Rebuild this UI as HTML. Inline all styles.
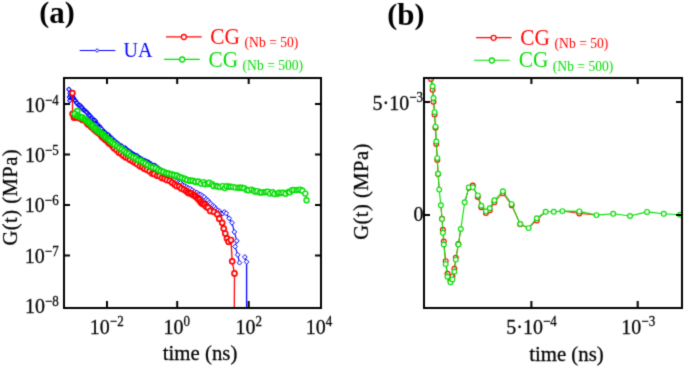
<!DOCTYPE html>
<html><head><meta charset="utf-8"><style>
html,body{margin:0;padding:0;background:#fff;width:685px;height:367px;overflow:hidden}
svg{display:block;will-change:transform}
</style></head><body>
<svg width="685" height="367" viewBox="0 0 685 367">
<defs><filter id="bl" x="0" y="0" width="685" height="367" filterUnits="userSpaceOnUse" color-interpolation-filters="sRGB"><feConvolveMatrix order="3" kernelMatrix="0.025 0.1 0.025 0.1 0.5 0.1 0.025 0.1 0.025" edgeMode="duplicate"/></filter><clipPath id="ca"><rect x="65" y="79" width="255" height="228"/></clipPath><clipPath id="cb"><rect x="425" y="79" width="256" height="228"/></clipPath></defs>
<g filter="url(#bl)"><rect width="685" height="367" fill="#fff"/>
<g clip-path="url(#ca)" fill="none" stroke-linejoin="round">
<polyline stroke="#00f" stroke-width="1.1" points="68.9,89.4 70.0,93.5 69.4,97.0 69.7,100.5 70.5,96.0 71.4,95.1 72.4,96.1 73.2,97.6 73.7,98.9 74.5,100.0 75.4,100.7 76.4,102.7 77.0,103.1 78.3,104.9 79.3,105.2 80.6,105.8 81.5,107.0 82.1,107.8 83.2,109.6 84.2,110.3 85.4,111.0 86.3,111.7 87.0,112.8 88.4,114.1 89.1,115.3 90.2,116.0 91.3,117.5 92.0,118.4 93.1,119.7 94.2,120.0 95.3,120.8 95.8,122.7 96.6,123.5 97.4,124.8 98.7,125.8 99.6,126.5 100.4,127.9 101.7,129.0 103.2,130.8 104.3,131.7 105.4,132.9 107.0,134.5 108.5,134.9 109.5,136.5 110.6,137.5 112.0,138.3 113.3,140.3 114.7,140.9 116.3,142.7 117.6,143.2 119.3,144.8 120.9,145.8 122.1,146.3 123.6,148.0 125.4,148.1 126.4,149.3 127.9,150.6 129.6,151.4 130.8,152.5 132.5,153.6 134.4,154.7 135.7,155.6 137.3,155.8 139.0,157.6 140.5,158.5 141.8,159.0 143.2,160.2 144.7,160.5 146.4,161.4 148.1,162.0 149.5,163.0 151.1,164.0 152.7,165.4 154.7,165.4 156.0,166.6 157.5,167.4 159.3,169.4 160.5,169.9 161.8,170.4 163.4,171.7 165.2,172.6 166.2,174.5 167.9,174.6 169.4,175.5 170.9,177.7 173.0,178.7 174.5,179.6 176.4,181.3 178.6,182.5 180.4,183.0 182.7,185.1 184.7,186.1 186.6,187.2 188.3,188.1 190.3,188.7 192.1,190.1 194.3,191.7 196.7,192.5 198.7,194.2 200.7,194.6 202.2,195.8 204.1,197.0 206.2,199.2 207.9,200.4 209.4,202.4 210.7,203.8 212.9,205.6 214.4,206.8 215.7,208.8 217.5,210.4 219.6,211.4 220.9,213.6 222.9,213.4 224.3,212.0 226.2,213.3 229.1,218.3 232.0,222.8 234.3,231.9 236.8,240.9 235.1,246.6 237.7,254.8 239.5,262.7"/>
<polyline stroke="#00f" stroke-width="1.3" points="244.8,257.0 246.6,261.8 246.6,312.0"/>
<g stroke="#00f" fill="#fff" stroke-width="1.05"><path d="M68.9 87.2l2.2 2.2l-2.2 2.2l-2.2-2.2z"/><path d="M70.0 91.3l2.2 2.2l-2.2 2.2l-2.2-2.2z"/><path d="M69.4 94.8l2.2 2.2l-2.2 2.2l-2.2-2.2z"/><path d="M69.7 98.3l2.2 2.2l-2.2 2.2l-2.2-2.2z"/><path d="M70.5 93.8l2.2 2.2l-2.2 2.2l-2.2-2.2z"/><path d="M71.4 92.9l2.2 2.2l-2.2 2.2l-2.2-2.2z"/><path d="M72.4 93.9l2.2 2.2l-2.2 2.2l-2.2-2.2z"/><path d="M73.2 95.4l2.2 2.2l-2.2 2.2l-2.2-2.2z"/><path d="M73.7 96.7l2.2 2.2l-2.2 2.2l-2.2-2.2z"/><path d="M74.5 97.8l2.2 2.2l-2.2 2.2l-2.2-2.2z"/><path d="M75.4 98.5l2.2 2.2l-2.2 2.2l-2.2-2.2z"/><path d="M76.4 100.5l2.2 2.2l-2.2 2.2l-2.2-2.2z"/><path d="M77.0 100.9l2.2 2.2l-2.2 2.2l-2.2-2.2z"/><path d="M78.3 102.7l2.2 2.2l-2.2 2.2l-2.2-2.2z"/><path d="M79.3 103.0l2.2 2.2l-2.2 2.2l-2.2-2.2z"/><path d="M80.6 103.6l2.2 2.2l-2.2 2.2l-2.2-2.2z"/><path d="M81.5 104.8l2.2 2.2l-2.2 2.2l-2.2-2.2z"/><path d="M82.1 105.6l2.2 2.2l-2.2 2.2l-2.2-2.2z"/><path d="M83.2 107.4l2.2 2.2l-2.2 2.2l-2.2-2.2z"/><path d="M84.2 108.1l2.2 2.2l-2.2 2.2l-2.2-2.2z"/><path d="M85.4 108.8l2.2 2.2l-2.2 2.2l-2.2-2.2z"/><path d="M86.3 109.5l2.2 2.2l-2.2 2.2l-2.2-2.2z"/><path d="M87.0 110.6l2.2 2.2l-2.2 2.2l-2.2-2.2z"/><path d="M88.4 111.9l2.2 2.2l-2.2 2.2l-2.2-2.2z"/><path d="M89.1 113.1l2.2 2.2l-2.2 2.2l-2.2-2.2z"/><path d="M90.2 113.8l2.2 2.2l-2.2 2.2l-2.2-2.2z"/><path d="M91.3 115.3l2.2 2.2l-2.2 2.2l-2.2-2.2z"/><path d="M92.0 116.2l2.2 2.2l-2.2 2.2l-2.2-2.2z"/><path d="M93.1 117.5l2.2 2.2l-2.2 2.2l-2.2-2.2z"/><path d="M94.2 117.8l2.2 2.2l-2.2 2.2l-2.2-2.2z"/><path d="M95.3 118.6l2.2 2.2l-2.2 2.2l-2.2-2.2z"/><path d="M95.8 120.5l2.2 2.2l-2.2 2.2l-2.2-2.2z"/><path d="M96.6 121.3l2.2 2.2l-2.2 2.2l-2.2-2.2z"/><path d="M97.4 122.6l2.2 2.2l-2.2 2.2l-2.2-2.2z"/><path d="M98.7 123.6l2.2 2.2l-2.2 2.2l-2.2-2.2z"/><path d="M99.6 124.3l2.2 2.2l-2.2 2.2l-2.2-2.2z"/><path d="M100.4 125.7l2.2 2.2l-2.2 2.2l-2.2-2.2z"/><path d="M101.7 126.8l2.2 2.2l-2.2 2.2l-2.2-2.2z"/><path d="M103.2 128.6l2.2 2.2l-2.2 2.2l-2.2-2.2z"/><path d="M104.3 129.5l2.2 2.2l-2.2 2.2l-2.2-2.2z"/><path d="M105.4 130.7l2.2 2.2l-2.2 2.2l-2.2-2.2z"/><path d="M107.0 132.3l2.2 2.2l-2.2 2.2l-2.2-2.2z"/><path d="M108.5 132.7l2.2 2.2l-2.2 2.2l-2.2-2.2z"/><path d="M109.5 134.3l2.2 2.2l-2.2 2.2l-2.2-2.2z"/><path d="M110.6 135.3l2.2 2.2l-2.2 2.2l-2.2-2.2z"/><path d="M112.0 136.1l2.2 2.2l-2.2 2.2l-2.2-2.2z"/><path d="M113.3 138.1l2.2 2.2l-2.2 2.2l-2.2-2.2z"/><path d="M114.7 138.7l2.2 2.2l-2.2 2.2l-2.2-2.2z"/><path d="M116.3 140.5l2.2 2.2l-2.2 2.2l-2.2-2.2z"/><path d="M117.6 141.0l2.2 2.2l-2.2 2.2l-2.2-2.2z"/><path d="M119.3 142.6l2.2 2.2l-2.2 2.2l-2.2-2.2z"/><path d="M120.9 143.6l2.2 2.2l-2.2 2.2l-2.2-2.2z"/><path d="M122.1 144.1l2.2 2.2l-2.2 2.2l-2.2-2.2z"/><path d="M123.6 145.8l2.2 2.2l-2.2 2.2l-2.2-2.2z"/><path d="M125.4 145.9l2.2 2.2l-2.2 2.2l-2.2-2.2z"/><path d="M126.4 147.1l2.2 2.2l-2.2 2.2l-2.2-2.2z"/><path d="M127.9 148.4l2.2 2.2l-2.2 2.2l-2.2-2.2z"/><path d="M129.6 149.2l2.2 2.2l-2.2 2.2l-2.2-2.2z"/><path d="M130.8 150.3l2.2 2.2l-2.2 2.2l-2.2-2.2z"/><path d="M132.5 151.4l2.2 2.2l-2.2 2.2l-2.2-2.2z"/><path d="M134.4 152.5l2.2 2.2l-2.2 2.2l-2.2-2.2z"/><path d="M135.7 153.4l2.2 2.2l-2.2 2.2l-2.2-2.2z"/><path d="M137.3 153.6l2.2 2.2l-2.2 2.2l-2.2-2.2z"/><path d="M139.0 155.4l2.2 2.2l-2.2 2.2l-2.2-2.2z"/><path d="M140.5 156.3l2.2 2.2l-2.2 2.2l-2.2-2.2z"/><path d="M141.8 156.8l2.2 2.2l-2.2 2.2l-2.2-2.2z"/><path d="M143.2 158.0l2.2 2.2l-2.2 2.2l-2.2-2.2z"/><path d="M144.7 158.3l2.2 2.2l-2.2 2.2l-2.2-2.2z"/><path d="M146.4 159.2l2.2 2.2l-2.2 2.2l-2.2-2.2z"/><path d="M148.1 159.8l2.2 2.2l-2.2 2.2l-2.2-2.2z"/><path d="M149.5 160.8l2.2 2.2l-2.2 2.2l-2.2-2.2z"/><path d="M151.1 161.8l2.2 2.2l-2.2 2.2l-2.2-2.2z"/><path d="M152.7 163.2l2.2 2.2l-2.2 2.2l-2.2-2.2z"/><path d="M154.7 163.2l2.2 2.2l-2.2 2.2l-2.2-2.2z"/><path d="M156.0 164.4l2.2 2.2l-2.2 2.2l-2.2-2.2z"/><path d="M157.5 165.2l2.2 2.2l-2.2 2.2l-2.2-2.2z"/><path d="M159.3 167.2l2.2 2.2l-2.2 2.2l-2.2-2.2z"/><path d="M160.5 167.7l2.2 2.2l-2.2 2.2l-2.2-2.2z"/><path d="M161.8 168.2l2.2 2.2l-2.2 2.2l-2.2-2.2z"/><path d="M163.4 169.5l2.2 2.2l-2.2 2.2l-2.2-2.2z"/><path d="M165.2 170.4l2.2 2.2l-2.2 2.2l-2.2-2.2z"/><path d="M166.2 172.3l2.2 2.2l-2.2 2.2l-2.2-2.2z"/><path d="M167.9 172.4l2.2 2.2l-2.2 2.2l-2.2-2.2z"/><path d="M169.4 173.3l2.2 2.2l-2.2 2.2l-2.2-2.2z"/></g>
<g stroke="#00f" fill="#fff" stroke-width="1.0"><path d="M170.9 175.3l2.4 2.4l-2.4 2.4l-2.4-2.4z"/><path d="M173.0 176.3l2.4 2.4l-2.4 2.4l-2.4-2.4z"/><path d="M174.5 177.2l2.4 2.4l-2.4 2.4l-2.4-2.4z"/><path d="M176.4 178.9l2.4 2.4l-2.4 2.4l-2.4-2.4z"/><path d="M178.6 180.1l2.4 2.4l-2.4 2.4l-2.4-2.4z"/><path d="M180.4 180.6l2.4 2.4l-2.4 2.4l-2.4-2.4z"/><path d="M182.7 182.7l2.4 2.4l-2.4 2.4l-2.4-2.4z"/><path d="M184.7 183.7l2.4 2.4l-2.4 2.4l-2.4-2.4z"/><path d="M186.6 184.8l2.4 2.4l-2.4 2.4l-2.4-2.4z"/><path d="M188.3 185.7l2.4 2.4l-2.4 2.4l-2.4-2.4z"/><path d="M190.3 186.3l2.4 2.4l-2.4 2.4l-2.4-2.4z"/><path d="M192.1 187.7l2.4 2.4l-2.4 2.4l-2.4-2.4z"/><path d="M194.3 189.3l2.4 2.4l-2.4 2.4l-2.4-2.4z"/><path d="M196.7 190.1l2.4 2.4l-2.4 2.4l-2.4-2.4z"/><path d="M198.7 191.8l2.4 2.4l-2.4 2.4l-2.4-2.4z"/><path d="M200.7 192.2l2.4 2.4l-2.4 2.4l-2.4-2.4z"/><path d="M202.2 193.4l2.4 2.4l-2.4 2.4l-2.4-2.4z"/><path d="M204.1 194.6l2.4 2.4l-2.4 2.4l-2.4-2.4z"/><path d="M206.2 196.8l2.4 2.4l-2.4 2.4l-2.4-2.4z"/><path d="M207.9 198.0l2.4 2.4l-2.4 2.4l-2.4-2.4z"/><path d="M209.4 200.0l2.4 2.4l-2.4 2.4l-2.4-2.4z"/><path d="M210.7 201.4l2.4 2.4l-2.4 2.4l-2.4-2.4z"/><path d="M212.9 203.2l2.4 2.4l-2.4 2.4l-2.4-2.4z"/><path d="M214.4 204.4l2.4 2.4l-2.4 2.4l-2.4-2.4z"/><path d="M215.7 206.4l2.4 2.4l-2.4 2.4l-2.4-2.4z"/><path d="M217.5 208.0l2.4 2.4l-2.4 2.4l-2.4-2.4z"/><path d="M219.6 209.0l2.4 2.4l-2.4 2.4l-2.4-2.4z"/><path d="M220.9 211.2l2.4 2.4l-2.4 2.4l-2.4-2.4z"/><path d="M222.9 211.0l2.4 2.4l-2.4 2.4l-2.4-2.4z"/><path d="M224.3 209.6l2.4 2.4l-2.4 2.4l-2.4-2.4z"/><path d="M226.2 210.9l2.4 2.4l-2.4 2.4l-2.4-2.4z"/><path d="M229.1 215.9l2.4 2.4l-2.4 2.4l-2.4-2.4z"/><path d="M232.0 220.4l2.4 2.4l-2.4 2.4l-2.4-2.4z"/><path d="M234.3 229.5l2.4 2.4l-2.4 2.4l-2.4-2.4z"/><path d="M236.8 238.5l2.4 2.4l-2.4 2.4l-2.4-2.4z"/><path d="M235.1 244.2l2.4 2.4l-2.4 2.4l-2.4-2.4z"/><path d="M237.7 252.4l2.4 2.4l-2.4 2.4l-2.4-2.4z"/><path d="M239.5 260.3l2.4 2.4l-2.4 2.4l-2.4-2.4z"/><path d="M244.8 254.6l2.4 2.4l-2.4 2.4l-2.4-2.4z"/><path d="M246.6 259.4l2.4 2.4l-2.4 2.4l-2.4-2.4z"/></g>
<polyline stroke="#f00" stroke-width="1.3" points="72.4,93.1 72.6,113.8 73.9,117.6 74.7,117.2 76.8,117.5 78.9,117.8 80.7,118.4 82.3,119.7 83.7,120.0 85.6,120.9 86.9,122.7 87.9,124.2 89.9,125.2 91.2,126.7 92.3,127.6 93.9,129.2 95.5,130.5 96.8,131.8 98.3,132.8 99.4,133.3 100.8,135.0 102.1,136.9 103.7,138.0 105.1,139.4 106.4,139.9 107.9,142.1 109.1,143.2 110.5,144.0 112.6,146.2 114.2,148.2 116.7,149.9 118.9,152.5 121.0,153.5 123.2,155.6 125.6,157.2 127.9,158.0 130.0,159.7 132.7,161.3 135.0,162.4 137.1,164.1 139.9,166.1 142.3,167.1 144.6,168.7 147.0,169.7 149.6,171.3 152.2,173.4 154.2,173.9 157.2,175.7 159.6,175.9 162.0,177.9 164.5,178.6 166.9,179.9 169.8,180.8 172.2,182.7 174.6,184.4 176.6,186.0 179.2,186.4 181.3,188.4 183.9,189.6 186.2,191.1 187.9,192.6 189.3,193.3 191.3,193.4 193.0,195.0 194.5,195.4 195.6,196.6 197.3,198.1 198.2,199.1 199.4,199.9 200.6,202.1 202.0,203.5 203.3,203.9 204.9,204.9 206.3,206.8 208.1,207.7 210.3,210.9 214.0,211.8 217.3,214.2 219.3,218.7 222.2,222.8 223.7,228.6 225.3,233.5 227.0,238.4 228.6,241.7 231.0,240.0 232.2,261.3 234.5,273.4 234.3,312.0"/>
<g stroke="#f00" fill="#fff" stroke-width="1.7"><circle cx="72.4" cy="93.1" r="2.5"/><circle cx="72.6" cy="113.8" r="2.5"/><circle cx="73.9" cy="117.6" r="2.5"/><circle cx="74.7" cy="117.2" r="2.5"/><circle cx="76.8" cy="117.5" r="2.5"/><circle cx="78.9" cy="117.8" r="2.5"/><circle cx="80.7" cy="118.4" r="2.5"/><circle cx="82.3" cy="119.7" r="2.5"/><circle cx="83.7" cy="120.0" r="2.5"/><circle cx="85.6" cy="120.9" r="2.5"/><circle cx="86.9" cy="122.7" r="2.5"/><circle cx="87.9" cy="124.2" r="2.5"/><circle cx="89.9" cy="125.2" r="2.5"/><circle cx="91.2" cy="126.7" r="2.5"/><circle cx="92.3" cy="127.6" r="2.5"/><circle cx="93.9" cy="129.2" r="2.5"/><circle cx="95.5" cy="130.5" r="2.5"/><circle cx="96.8" cy="131.8" r="2.5"/><circle cx="98.3" cy="132.8" r="2.5"/><circle cx="99.4" cy="133.3" r="2.5"/><circle cx="100.8" cy="135.0" r="2.5"/><circle cx="102.1" cy="136.9" r="2.5"/><circle cx="103.7" cy="138.0" r="2.5"/><circle cx="105.1" cy="139.4" r="2.5"/><circle cx="106.4" cy="139.9" r="2.5"/><circle cx="107.9" cy="142.1" r="2.5"/><circle cx="109.1" cy="143.2" r="2.5"/><circle cx="110.5" cy="144.0" r="2.5"/><circle cx="112.6" cy="146.2" r="2.5"/><circle cx="114.2" cy="148.2" r="2.5"/><circle cx="116.7" cy="149.9" r="2.5"/><circle cx="118.9" cy="152.5" r="2.5"/><circle cx="121.0" cy="153.5" r="2.5"/><circle cx="123.2" cy="155.6" r="2.5"/><circle cx="125.6" cy="157.2" r="2.5"/><circle cx="127.9" cy="158.0" r="2.5"/><circle cx="130.0" cy="159.7" r="2.5"/><circle cx="132.7" cy="161.3" r="2.5"/><circle cx="135.0" cy="162.4" r="2.5"/><circle cx="137.1" cy="164.1" r="2.5"/><circle cx="139.9" cy="166.1" r="2.5"/><circle cx="142.3" cy="167.1" r="2.5"/><circle cx="144.6" cy="168.7" r="2.5"/><circle cx="147.0" cy="169.7" r="2.5"/><circle cx="149.6" cy="171.3" r="2.5"/><circle cx="152.2" cy="173.4" r="2.5"/><circle cx="154.2" cy="173.9" r="2.5"/><circle cx="157.2" cy="175.7" r="2.5"/><circle cx="159.6" cy="175.9" r="2.5"/><circle cx="162.0" cy="177.9" r="2.5"/><circle cx="164.5" cy="178.6" r="2.5"/><circle cx="166.9" cy="179.9" r="2.5"/><circle cx="169.8" cy="180.8" r="2.5"/><circle cx="172.2" cy="182.7" r="2.5"/><circle cx="174.6" cy="184.4" r="2.5"/><circle cx="176.6" cy="186.0" r="2.5"/><circle cx="179.2" cy="186.4" r="2.5"/><circle cx="181.3" cy="188.4" r="2.5"/><circle cx="183.9" cy="189.6" r="2.5"/><circle cx="186.2" cy="191.1" r="2.5"/><circle cx="187.9" cy="192.6" r="2.5"/><circle cx="189.3" cy="193.3" r="2.5"/><circle cx="191.3" cy="193.4" r="2.5"/><circle cx="193.0" cy="195.0" r="2.5"/><circle cx="194.5" cy="195.4" r="2.5"/><circle cx="195.6" cy="196.6" r="2.5"/><circle cx="197.3" cy="198.1" r="2.5"/><circle cx="198.2" cy="199.1" r="2.5"/><circle cx="199.4" cy="199.9" r="2.5"/><circle cx="200.6" cy="202.1" r="2.5"/><circle cx="202.0" cy="203.5" r="2.5"/><circle cx="203.3" cy="203.9" r="2.5"/><circle cx="204.9" cy="204.9" r="2.5"/><circle cx="206.3" cy="206.8" r="2.5"/><circle cx="208.1" cy="207.7" r="2.5"/><circle cx="210.3" cy="210.9" r="2.5"/><circle cx="214.0" cy="211.8" r="2.5"/><circle cx="217.3" cy="214.2" r="2.5"/><circle cx="219.3" cy="218.7" r="2.5"/><circle cx="222.2" cy="222.8" r="2.5"/><circle cx="223.7" cy="228.6" r="2.5"/><circle cx="225.3" cy="233.5" r="2.5"/><circle cx="227.0" cy="238.4" r="2.5"/><circle cx="228.6" cy="241.7" r="2.5"/><circle cx="231.0" cy="240.0" r="2.5"/><circle cx="232.2" cy="261.3" r="2.5"/><circle cx="234.5" cy="273.4" r="2.5"/></g>
<polyline stroke="#0d0" stroke-width="1.3" points="77.3,111.0 74.8,113.9 77.4,115.8 79.4,116.5 80.8,117.3 82.4,117.7 84.5,119.1 85.8,120.3 87.3,121.5 88.9,122.2 90.1,123.5 91.5,125.1 92.8,126.2 94.2,128.0 95.7,128.8 97.2,130.4 98.7,131.6 100.2,132.5 101.6,133.3 103.1,134.6 104.4,136.3 105.9,137.3 107.6,138.6 108.9,139.8 110.4,141.2 112.4,142.8 114.6,144.4 117.1,146.1 119.3,147.9 121.8,149.2 124.0,150.8 126.3,152.5 128.6,153.9 131.0,155.8 133.4,157.2 135.9,158.2 138.2,160.1 140.8,160.7 143.0,162.3 145.5,163.5 147.9,165.1 150.7,166.6 153.0,167.5 155.8,168.2 158.4,170.0 160.8,171.1 163.4,171.8 166.2,173.1 168.6,173.6 171.4,174.3 174.0,175.1 176.8,175.7 179.4,177.0 181.8,177.8 184.7,178.9 187.2,180.0 190.2,180.7 192.7,180.8 195.4,181.8 198.2,181.7 201.0,183.5 203.7,182.1 205.0,184.2 207.7,184.0 209.2,182.8 212.1,184.2 213.5,186.0 216.4,186.0 217.8,186.6 220.0,187.0 222.6,186.1 224.9,188.1 226.7,186.3 229.3,186.8 230.9,186.8 233.0,187.1 235.5,187.6 238.3,187.8 240.2,187.8 242.1,187.8 244.2,188.2 246.9,190.0 248.4,190.2 251.5,189.6 253.6,190.6 255.4,191.8 257.4,191.1 260.0,192.5 261.7,192.5 264.4,192.3 266.1,192.0 267.8,191.8 270.0,193.6 272.5,192.2 274.5,194.0 277.7,193.7 279.1,192.6 281.3,193.0 283.3,192.7 285.6,193.7 288.6,191.9 289.8,192.3 292.0,190.1 293.8,190.0 296.6,190.1 298.4,189.9 300.3,189.6 302.4,190.8 305.3,193.6 306.6,200.2"/>
<g stroke="#0d0" fill="#fff" stroke-width="1.7"><circle cx="77.3" cy="111.0" r="2.5"/><circle cx="74.8" cy="113.9" r="2.5"/><circle cx="77.4" cy="115.8" r="2.5"/><circle cx="79.4" cy="116.5" r="2.5"/><circle cx="80.8" cy="117.3" r="2.5"/><circle cx="82.4" cy="117.7" r="2.5"/><circle cx="84.5" cy="119.1" r="2.5"/><circle cx="85.8" cy="120.3" r="2.5"/><circle cx="87.3" cy="121.5" r="2.5"/><circle cx="88.9" cy="122.2" r="2.5"/><circle cx="90.1" cy="123.5" r="2.5"/><circle cx="91.5" cy="125.1" r="2.5"/><circle cx="92.8" cy="126.2" r="2.5"/><circle cx="94.2" cy="128.0" r="2.5"/><circle cx="95.7" cy="128.8" r="2.5"/><circle cx="97.2" cy="130.4" r="2.5"/><circle cx="98.7" cy="131.6" r="2.5"/><circle cx="100.2" cy="132.5" r="2.5"/><circle cx="101.6" cy="133.3" r="2.5"/><circle cx="103.1" cy="134.6" r="2.5"/><circle cx="104.4" cy="136.3" r="2.5"/><circle cx="105.9" cy="137.3" r="2.5"/><circle cx="107.6" cy="138.6" r="2.5"/><circle cx="108.9" cy="139.8" r="2.5"/><circle cx="110.4" cy="141.2" r="2.5"/><circle cx="112.4" cy="142.8" r="2.5"/><circle cx="114.6" cy="144.4" r="2.5"/><circle cx="117.1" cy="146.1" r="2.5"/><circle cx="119.3" cy="147.9" r="2.5"/><circle cx="121.8" cy="149.2" r="2.5"/><circle cx="124.0" cy="150.8" r="2.5"/><circle cx="126.3" cy="152.5" r="2.5"/><circle cx="128.6" cy="153.9" r="2.5"/><circle cx="131.0" cy="155.8" r="2.5"/><circle cx="133.4" cy="157.2" r="2.5"/><circle cx="135.9" cy="158.2" r="2.5"/><circle cx="138.2" cy="160.1" r="2.5"/><circle cx="140.8" cy="160.7" r="2.5"/><circle cx="143.0" cy="162.3" r="2.5"/><circle cx="145.5" cy="163.5" r="2.5"/><circle cx="147.9" cy="165.1" r="2.5"/><circle cx="150.7" cy="166.6" r="2.5"/><circle cx="153.0" cy="167.5" r="2.5"/><circle cx="155.8" cy="168.2" r="2.5"/><circle cx="158.4" cy="170.0" r="2.5"/><circle cx="160.8" cy="171.1" r="2.5"/><circle cx="163.4" cy="171.8" r="2.5"/><circle cx="166.2" cy="173.1" r="2.5"/><circle cx="168.6" cy="173.6" r="2.5"/><circle cx="171.4" cy="174.3" r="2.5"/><circle cx="174.0" cy="175.1" r="2.5"/><circle cx="176.8" cy="175.7" r="2.5"/><circle cx="179.4" cy="177.0" r="2.5"/><circle cx="181.8" cy="177.8" r="2.5"/><circle cx="184.7" cy="178.9" r="2.5"/><circle cx="187.2" cy="180.0" r="2.5"/><circle cx="190.2" cy="180.7" r="2.5"/><circle cx="192.7" cy="180.8" r="2.5"/><circle cx="195.4" cy="181.8" r="2.5"/><circle cx="198.2" cy="181.7" r="2.5"/></g>
<g stroke="#0d0" fill="#fff" stroke-width="1.4"><circle cx="201.0" cy="183.5" r="2.5"/><circle cx="203.7" cy="182.1" r="2.5"/><circle cx="205.0" cy="184.2" r="2.5"/><circle cx="207.7" cy="184.0" r="2.5"/><circle cx="209.2" cy="182.8" r="2.5"/><circle cx="212.1" cy="184.2" r="2.5"/><circle cx="213.5" cy="186.0" r="2.5"/><circle cx="216.4" cy="186.0" r="2.5"/><circle cx="217.8" cy="186.6" r="2.5"/><circle cx="220.0" cy="187.0" r="2.5"/><circle cx="222.6" cy="186.1" r="2.5"/><circle cx="224.9" cy="188.1" r="2.5"/><circle cx="226.7" cy="186.3" r="2.5"/><circle cx="229.3" cy="186.8" r="2.5"/><circle cx="230.9" cy="186.8" r="2.5"/><circle cx="233.0" cy="187.1" r="2.5"/><circle cx="235.5" cy="187.6" r="2.5"/><circle cx="238.3" cy="187.8" r="2.5"/><circle cx="240.2" cy="187.8" r="2.5"/><circle cx="242.1" cy="187.8" r="2.5"/><circle cx="244.2" cy="188.2" r="2.5"/><circle cx="246.9" cy="190.0" r="2.5"/><circle cx="248.4" cy="190.2" r="2.5"/><circle cx="251.5" cy="189.6" r="2.5"/><circle cx="253.6" cy="190.6" r="2.5"/><circle cx="255.4" cy="191.8" r="2.5"/><circle cx="257.4" cy="191.1" r="2.5"/><circle cx="260.0" cy="192.5" r="2.5"/><circle cx="261.7" cy="192.5" r="2.5"/><circle cx="264.4" cy="192.3" r="2.5"/><circle cx="266.1" cy="192.0" r="2.5"/><circle cx="267.8" cy="191.8" r="2.5"/><circle cx="270.0" cy="193.6" r="2.5"/><circle cx="272.5" cy="192.2" r="2.5"/><circle cx="274.5" cy="194.0" r="2.5"/><circle cx="277.7" cy="193.7" r="2.5"/><circle cx="279.1" cy="192.6" r="2.5"/><circle cx="281.3" cy="193.0" r="2.5"/><circle cx="283.3" cy="192.7" r="2.5"/><circle cx="285.6" cy="193.7" r="2.5"/><circle cx="288.6" cy="191.9" r="2.5"/><circle cx="289.8" cy="192.3" r="2.5"/><circle cx="292.0" cy="190.1" r="2.5"/><circle cx="293.8" cy="190.0" r="2.5"/><circle cx="296.6" cy="190.1" r="2.5"/><circle cx="298.4" cy="189.9" r="2.5"/><circle cx="300.3" cy="189.6" r="2.5"/><circle cx="302.4" cy="190.8" r="2.5"/><circle cx="305.3" cy="193.6" r="2.5"/><circle cx="306.6" cy="200.2" r="2.5"/></g>
</g>
<g clip-path="url(#cb)" fill="none" stroke-linejoin="round">
<path stroke="#f00" stroke-width="0.9" d="M429.8 68.0L431.0 79.0M431.0 79.0L432.6 89.8M432.6 89.8L433.5 101.8M433.5 101.8L434.6 114.6M434.6 114.6L435.5 127.7M435.5 127.7L436.3 144.0M436.3 144.0L437.3 160.1M437.3 160.1L438.1 174.1M438.1 174.1L439.2 189.6M440.9 205.3L442.0 218.6M442.0 218.6L442.9 229.8M442.9 229.8L443.8 241.5M443.8 241.5L445.7 261.1M445.7 261.1L447.5 273.7M447.5 273.7L450.5 280.7M450.5 280.7L452.4 276.4M452.4 276.4L454.4 268.8M454.4 268.8L455.8 257.6M455.8 257.6L458.4 244.0M458.4 244.0L460.8 229.0M464.7 202.3L468.9 187.7M468.9 187.7L472.8 185.5M472.8 185.5L477.8 196.9M477.8 196.9L481.3 207.2M481.3 207.2L485.9 213.1M485.9 213.1L489.8 210.2M489.8 210.2L494.4 202.3M494.4 202.3L502.9 193.3M502.9 193.3L511.6 205.3M511.6 205.3L520.2 224.3M520.2 224.3L528.6 228.1M528.6 228.1L536.8 220.4M536.8 220.4L545.7 211.8M562.4 211.1L579.3 213.4M579.3 213.4L596.4 215.1"/>
<g stroke="#f00" fill="#fff" stroke-width="1.15"><circle cx="429.8" cy="68.0" r="2.4"/><circle cx="431.0" cy="79.0" r="2.4"/><circle cx="432.6" cy="89.8" r="2.4"/><circle cx="433.5" cy="101.8" r="2.4"/><circle cx="434.6" cy="114.6" r="2.4"/><circle cx="435.5" cy="127.7" r="2.4"/><circle cx="436.3" cy="144.0" r="2.4"/><circle cx="437.3" cy="160.1" r="2.4"/><circle cx="438.1" cy="174.1" r="2.4"/><circle cx="442.0" cy="218.6" r="2.4"/><circle cx="442.9" cy="229.8" r="2.4"/><circle cx="443.8" cy="241.5" r="2.4"/><circle cx="445.7" cy="261.1" r="2.4"/><circle cx="447.5" cy="273.7" r="2.4"/><circle cx="450.5" cy="280.7" r="2.4"/><circle cx="452.4" cy="276.4" r="2.4"/><circle cx="454.4" cy="268.8" r="2.4"/><circle cx="455.8" cy="257.6" r="2.4"/><circle cx="458.4" cy="244.0" r="2.4"/><circle cx="468.9" cy="187.7" r="2.4"/><circle cx="472.8" cy="185.5" r="2.4"/><circle cx="477.8" cy="196.9" r="2.4"/><circle cx="481.3" cy="207.2" r="2.4"/><circle cx="485.9" cy="213.1" r="2.4"/><circle cx="489.8" cy="210.2" r="2.4"/><circle cx="494.4" cy="202.3" r="2.4"/><circle cx="502.9" cy="193.3" r="2.4"/><circle cx="511.6" cy="205.3" r="2.4"/><circle cx="520.2" cy="224.3" r="2.4"/><circle cx="536.8" cy="220.4" r="2.4"/><circle cx="579.3" cy="213.4" r="2.4"/></g>
<polyline stroke="#0d0" stroke-width="1.1" points="430.3,66.0 431.3,74.0 432.6,86.3 433.5,98.0 434.6,112.1 435.5,126.7 436.3,141.5 437.3,158.1 438.1,173.8 439.2,189.6 440.9,205.3 442.0,219.1 442.9,232.8 443.8,244.5 445.7,264.1 447.5,276.7 450.5,282.2 452.4,279.4 454.4,271.8 455.8,259.6 458.4,244.5 460.8,229.0 464.7,202.3 468.9,187.4 472.8,187.3 477.8,195.4 481.3,205.7 485.9,211.3 489.8,208.2 494.4,200.3 502.9,191.3 511.6,204.1 520.2,224.0 528.6,228.1 536.8,218.2 545.7,211.8 553.8,211.8 562.4,211.1 579.3,211.4 596.4,215.1 613.2,213.8 630.0,216.0 647.0,211.9 663.8,213.8 680.2,214.8"/>
<g stroke="#0d0" fill="#fff" stroke-width="1.15"><circle cx="430.3" cy="66.0" r="2.4"/><circle cx="431.3" cy="74.0" r="2.4"/><circle cx="432.6" cy="86.3" r="2.4"/><circle cx="433.5" cy="98.0" r="2.4"/><circle cx="434.6" cy="112.1" r="2.4"/><circle cx="435.5" cy="126.7" r="2.4"/><circle cx="436.3" cy="141.5" r="2.4"/><circle cx="437.3" cy="158.1" r="2.4"/><circle cx="438.1" cy="173.8" r="2.4"/><circle cx="439.2" cy="189.6" r="2.4"/><circle cx="440.9" cy="205.3" r="2.4"/><circle cx="442.0" cy="219.1" r="2.4"/><circle cx="442.9" cy="232.8" r="2.4"/><circle cx="443.8" cy="244.5" r="2.4"/><circle cx="445.7" cy="264.1" r="2.4"/><circle cx="447.5" cy="276.7" r="2.4"/><circle cx="450.5" cy="282.2" r="2.4"/><circle cx="452.4" cy="279.4" r="2.4"/><circle cx="454.4" cy="271.8" r="2.4"/><circle cx="455.8" cy="259.6" r="2.4"/><circle cx="458.4" cy="244.5" r="2.4"/><circle cx="460.8" cy="229.0" r="2.4"/><circle cx="464.7" cy="202.3" r="2.4"/><circle cx="468.9" cy="187.4" r="2.4"/><circle cx="472.8" cy="187.3" r="2.4"/><circle cx="477.8" cy="195.4" r="2.4"/><circle cx="481.3" cy="205.7" r="2.4"/><circle cx="485.9" cy="211.3" r="2.4"/><circle cx="489.8" cy="208.2" r="2.4"/><circle cx="494.4" cy="200.3" r="2.4"/><circle cx="502.9" cy="191.3" r="2.4"/><circle cx="511.6" cy="204.1" r="2.4"/><circle cx="520.2" cy="224.0" r="2.4"/><circle cx="528.6" cy="228.1" r="2.4"/><circle cx="536.8" cy="218.2" r="2.4"/><circle cx="545.7" cy="211.8" r="2.4"/><circle cx="553.8" cy="211.8" r="2.4"/><circle cx="562.4" cy="211.1" r="2.4"/><circle cx="579.3" cy="211.4" r="2.4"/><circle cx="596.4" cy="215.1" r="2.4"/><circle cx="613.2" cy="213.8" r="2.4"/><circle cx="630.0" cy="216.0" r="2.4"/><circle cx="647.0" cy="211.9" r="2.4"/><circle cx="663.8" cy="213.8" r="2.4"/><circle cx="680.2" cy="214.8" r="2.4"/></g>
</g>
<g fill="none" stroke="#000" stroke-width="2">
<rect x="64" y="78" width="257" height="230"/>
<rect x="424" y="78" width="258" height="230"/>
<path d="M107 79V84M177.2 79V84M248.7 79V84M107 307V301M177.2 307V301M248.7 307V301M65 104.1H70M65 154.6H70M65 205H70M65 255.5H70M320 104.1H315M320 154.6H315M320 205H315M320 255.5H315M531.4 79V84M637.7 79V84M531.4 307V301M637.7 307V301M425 102H430M425 215.1H430M681 102H676M681 215.1H676"/>
</g>
<g stroke-width="1.15" fill="#fff">
<path d="M79.7 50.5H115.3" stroke="#00f"/>
<path d="M97.1 48.7l1.8 1.8l-1.8 1.8l-1.8-1.8z" stroke="#00f" stroke-width="1"/>
<path d="M166 36.8H201.7" stroke="#f00"/><circle cx="183.9" cy="37" r="2.5" stroke="#f00" stroke-width="1.3"/>
<path d="M164.1 59.3H199.8" stroke="#0d0"/><circle cx="182.2" cy="59.5" r="2.5" stroke="#0d0" stroke-width="1.3"/>
<path d="M476.1 37.6H511.6" stroke="#f00"/><circle cx="493.6" cy="37.8" r="2.5" stroke="#f00" stroke-width="1.3"/>
<path d="M474 60.2H509.6" stroke="#0d0"/><circle cx="491.9" cy="60.5" r="2.5" stroke="#0d0" stroke-width="1.3"/>
</g>
<g font-family="'Liberation Serif', serif" fill="#000" stroke="#000" stroke-width="0.25">
<text x="39.3" y="23.4" font-size="31" font-weight="bold" stroke-width="0"><tspan font-size="30" dy="-1.5">(</tspan><tspan dy="1.5">a</tspan><tspan font-size="30" dy="-1.5">)</tspan></text>
<text x="387.3" y="25" font-size="31" font-weight="bold" stroke-width="0"><tspan font-size="30" dy="-1.5">(</tspan><tspan dy="1.5">b</tspan><tspan font-size="30" dy="-1.5">)</tspan></text>
<text transform="translate(123.50 57.00)" font-size="20" fill="#00f" stroke="none">UA</text>
<text transform="translate(210.30 43.90) scale(1 1.05)" font-size="21.3" fill="#f00" stroke="none">CG</text>
<text transform="translate(244.60 47.30) scale(1 1.15)" font-size="13.6" fill="#f00" stroke="none">(Nb = 50)</text>
<text transform="translate(208.50 66.60) scale(1 1.05)" font-size="21.3" fill="#0d0" stroke="none">CG</text>
<text transform="translate(242.60 70.30) scale(1 1.15)" font-size="13.6" fill="#0d0" stroke="none">(Nb = 500)</text>
<text transform="translate(520.30 44.60) scale(1 1.05)" font-size="21.3" fill="#f00" stroke="none">CG</text>
<text transform="translate(554.60 48.30) scale(1 1.15)" font-size="13.6" fill="#f00" stroke="none">(Nb = 50)</text>
<text transform="translate(518.80 67.30) scale(1 1.05)" font-size="21.3" fill="#0d0" stroke="none">CG</text>
<text transform="translate(552.80 70.80) scale(1 1.15)" font-size="13.6" fill="#0d0" stroke="none">(Nb = 500)</text>
<text transform="translate(25.00 111.80) scale(1 1.1)" font-size="20">10</text><text transform="translate(45.00 104.60) scale(1 1.12)" font-size="13">−4</text>
<text transform="translate(25.00 162.40) scale(1 1.1)" font-size="20">10</text><text transform="translate(45.00 155.20) scale(1 1.12)" font-size="13">−5</text>
<text transform="translate(24.80 212.20) scale(1 1.1)" font-size="20">10</text><text transform="translate(44.80 205.00) scale(1 1.12)" font-size="13">−6</text>
<text transform="translate(24.80 262.90) scale(1 1.1)" font-size="20">10</text><text transform="translate(44.80 255.70) scale(1 1.12)" font-size="13">−7</text>
<text transform="translate(25.00 313.40) scale(1 1.1)" font-size="20">10</text><text transform="translate(45.00 306.20) scale(1 1.12)" font-size="13">−8</text>
<text transform="translate(89.80 333.90) scale(1 1.1)" font-size="20">10</text><text transform="translate(109.80 326.40) scale(1 1.12)" font-size="13">−2</text>
<text transform="translate(163.60 333.90) scale(1 1.1)" font-size="20">10</text><text transform="translate(183.60 326.40) scale(1 1.12)" font-size="13">0</text>
<text transform="translate(235.60 333.90) scale(1 1.1)" font-size="20">10</text><text transform="translate(255.60 326.40) scale(1 1.12)" font-size="13">2</text>
<text transform="translate(305.80 333.90) scale(1 1.1)" font-size="20">10</text><text transform="translate(325.80 326.40) scale(1 1.12)" font-size="13">4</text>
<text transform="translate(621.30 333.90) scale(1 1.1)" font-size="20">10</text><text transform="translate(641.30 326.40) scale(1 1.12)" font-size="13">−3</text>
<text transform="translate(372.60 109.50) scale(1 1.1)" font-size="20">5·10</text><text transform="translate(409.26 102.30) scale(1 1.12)" font-size="13">−3</text>
<text transform="translate(506.30 333.90) scale(1 1.1)" font-size="20">5·10</text><text transform="translate(542.96 326.40) scale(1 1.12)" font-size="13">−4</text>
<text transform="translate(413.60 221.30) scale(1 1.1)" font-size="20">0</text>
<text transform="translate(162.80 360.30) scale(1 1.04)" font-size="20.8">time (ns)</text>
<text transform="translate(529.20 360.50) scale(1 1.04)" font-size="20.8">time (ns)</text>
<text transform="translate(16.9 245.6) rotate(-90)" font-size="20.5" textLength="96.2" lengthAdjust="spacing">G(t) (MPa)</text>
<text transform="translate(367.9 239.8) rotate(-90)" font-size="20.5" textLength="96.2" lengthAdjust="spacing">G(t) (MPa)</text>
</g></g></svg>
</body></html>
